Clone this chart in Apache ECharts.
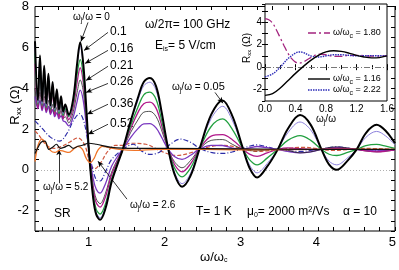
<!DOCTYPE html>
<html><head><meta charset="utf-8">
<script src="https://cdn.jsdelivr.net/npm/echarts@6/dist/echarts.min.js"></script>
<style>html,body{margin:0;padding:0;background:#fff}#c{width:399px;height:270px}</style>
</head><body><div id="c"></div>
<script>
// ---------- data ----------
const X_LOW = [0.3,0.3375,0.365,0.3925,0.42,0.4475,0.475,0.5025,0.53,0.5575,0.585,0.6125,0.64,0.6675,0.695];
const X_HIGH = [0.74,0.80,0.85,0.89,0.93,0.97,1.01,1.06,1.10,1.15,1.22,1.30,1.38,1.45,1.55,1.65,1.72,1.80,1.88,1.95,2.03,2.12,2.22,2.33,2.45,2.60,2.75,2.88,3.01,3.10,3.20,3.33,3.47,3.60,3.76,3.90,4.04,4.14,4.24,4.37,4.50,4.62,4.76,4.88,5.00];

const R_000_LOW = [6.3,3.4,5.6,3.35,5.1,3.25,4.7,3.15,4.3,3.05,3.95,2.95,3.6,2.85,3.2];
const R_000_HIGH = [2.7,3.5,5.2,6.25,5.2,3.0,0.6,-1.4,-2.2,-2.45,-1.9,-0.6,0.3,1.05,2.4,3.6,4.3,4.5,4.1,2.9,1.2,-0.2,-0.83,-0.3,1.05,2.7,3.4,2.6,1.1,0.1,-0.38,0.15,1.0,2.0,2.68,2.2,1.0,0.25,0.0,0.4,1.0,1.8,2.2,1.9,1.3];
const R_005_LOW = [6.1,3.3,5.45,3.25,5.0,3.15,4.6,3.05,4.2,2.95,3.85,2.85,3.5,2.75,3.1];
const R_005_HIGH = [2.65,3.43,5.07,6.09,5.07,2.94,0.61,-1.33,-2.1,-2.35,-1.81,-0.55,0.32,1.05,2.34,3.47,4.12,4.29,3.9,2.77,1.19,-0.11,-0.68,-0.18,1.05,2.51,3.11,2.39,1.09,0.24,-0.15,0.3,1.0,1.81,2.34,1.95,1.0,0.42,0.24,0.55,1.0,1.59,1.88,1.65,1.22];
const R_010_LOW = [5.7,3.2,5.1,3.15,4.7,3.05,4.35,2.95,4.0,2.85,3.7,2.75,3.4,2.65,3.0];
const R_010_HIGH = [2.6,3.3,4.7,5.4,4.61,2.72,0.64,-1.2,-1.94,-2.17,-1.67,-0.47,0.37,1.04,2.18,3.13,3.67,3.8,3.45,2.48,1.15,0.1,-0.35,0.08,1.03,2.12,2.49,1.96,1.06,0.5,0.24,0.57,1.0,1.44,1.67,1.44,1.0,0.76,0.7,0.84,1.0,1.18,1.24,1.16,1.05];
const R_016_LOW = [5.2,3.0,4.8,2.95,4.5,2.85,4.2,2.75,3.9,2.65,3.6,2.55,3.3,2.5,2.9];
const R_016_HIGH = [2.45,3.1,4.3,5.0,4.28,2.6,0.68,-0.94,-1.62,-1.83,-1.32,-0.25,0.46,1.04,2.02,2.85,3.24,3.31,3.02,2.22,1.13,0.27,-0.1,0.29,1.03,1.65,1.72,1.46,1.03,0.77,0.66,0.83,1.0,1.07,1.03,1.0,1.0,1.03,1.05,1.04,1.0,0.93,0.88,0.91,0.97];
const R_021_LOW = [4.0,3.1,3.8,3.0,3.6,2.9,3.4,2.8,3.2,2.7,3.05,2.6,2.9,2.5,2.6];
const R_021_HIGH = [2.3,2.85,3.8,4.4,3.86,2.4,0.72,-0.78,-1.43,-1.66,-1.15,-0.12,0.53,1.03,1.84,2.48,2.82,2.86,2.61,1.97,1.1,0.4,0.1,0.45,1.02,1.44,1.48,1.24,1.01,0.94,0.93,0.97,1.0,0.95,0.83,0.88,1.0,1.09,1.12,1.07,1.0,0.92,0.88,0.91,0.97];
const R_026_LOW = [3.6,3.0,3.4,2.9,3.25,2.8,3.1,2.7,2.95,2.6,2.8,2.5,2.65,2.4,2.35];
const R_026_HIGH = [2.15,2.6,3.35,3.9,3.39,2.16,0.77,-0.44,-0.95,-1.14,-0.68,0.17,0.67,1.02,1.59,2.04,2.25,2.26,2.05,1.61,1.06,0.65,0.51,0.71,1.01,1.2,1.19,1.06,1.0,1.07,1.14,1.08,1.0,0.9,0.83,0.88,1.0,1.07,1.1,1.06,1.0,0.95,0.93,0.95,0.98];

const X_036 = [0.3,0.4,0.5,0.62,0.72,0.8,0.88,0.95,1.02,1.1,1.15,1.22,1.3,1.45,1.58,1.7,1.8,1.92,2.03,2.2,2.33,2.45,2.6,2.75,2.9,3.01,3.2,3.35,3.5,3.76,4.0,4.24,4.5,4.76,5.0];
const R_036 = [2.4,2.0,1.6,1.4,1.8,2.4,2.75,2.2,0.6,-0.5,-0.55,-0.1,0.5,1.0,1.25,0.9,0.75,0.85,1.15,1.5,1.35,1.05,0.85,0.8,0.9,1.05,1.22,1.1,0.98,0.9,1.0,1.12,1.0,0.93,1.0];
const X_052 = [0.3,0.35,0.45,0.55,0.65,0.75,0.86,0.95,1.02,1.08,1.15,1.25,1.35,1.45,1.55,1.75,1.95,2.15,2.35,2.55,2.75,3.0,3.2,3.5,3.8,4.2,4.6,5.0];
const R_052 = [1.9,1.7,1.2,1.05,1.15,1.35,1.56,1.2,0.3,0.05,0.3,0.9,1.2,1.2,1.3,1.25,0.9,0.7,0.85,1.1,1.2,1.05,0.9,1.0,1.1,0.95,1.05,1.0];
const X_260 = [0.3,0.34,0.39,0.44,0.5,0.56,0.62,0.68,0.74,0.8,0.86,0.92,0.97,1.02,1.07,1.12,1.18,1.25,1.4,1.6,1.9,2.5,3.0,4.0,5.0];
const R_260 = [0.4,1.2,1.5,1.3,0.95,0.85,0.95,0.9,0.85,1.0,1.15,1.0,0.55,0.35,0.55,0.95,1.15,1.1,1.0,0.95,1.0,1.0,0.98,1.0,1.0];
const X_520 = [0.3,0.34,0.38,0.43,0.48,0.53,0.58,0.63,0.68,0.74,0.8,0.86,0.92,1.0,1.1,1.3,1.6,2.0,3.0,4.0,5.0];
const R_520 = [0.8,1.1,1.35,1.4,1.0,1.1,1.25,1.05,1.1,1.2,1.05,1.15,1.2,1.3,1.25,1.1,1.05,1.05,1.02,1.0,1.0];

// inset
const IN_X_180 = [0,0.05,0.1,0.15,0.2,0.25,0.3,0.35,0.4,0.45,0.5,0.6,0.7,0.8,0.9,1.0,1.1,1.2,1.4,1.6];
const IN_R_180 = [4.3,4.2,3.9,3.3,2.6,1.9,1.25,0.75,0.45,0.35,0.45,0.85,1.15,1.1,0.95,0.95,1.05,1.05,0.98,1.0];
const IN_X_116 = [0,0.1,0.2,0.3,0.4,0.5,0.6,0.7,0.8,0.9,1.0,1.1,1.2,1.3,1.4,1.5,1.6];
const IN_R_116 = [-2.5,-2.35,-1.85,-1.2,-0.55,0.05,0.6,1.05,1.35,1.45,1.4,1.25,1.05,0.9,0.82,0.85,1.0];
const IN_X_222 = [0,0.1,0.2,0.3,0.4,0.45,0.5,0.6,0.7,0.8,0.9,1.0,1.2,1.4,1.6];
const IN_R_222 = [-0.85,-0.6,0.0,0.75,1.25,1.35,1.3,1.0,0.9,1.0,1.1,1.1,1.0,1.02,1.0];

const Y_TICKS_MAIN = [-2,0,2,4,6,8];
const Y_TICKS_INSET = [-2,0,2,4];

// ---------- chart ----------
const F = 'Liberation Sans';
const PX = (399 - 4 - 35) / 4.7; // px per x unit in main plot
const zip = (xs, ys) => xs.map((x, i) => [x, ys[i]]);
const full = (lo, hi) => zip(X_LOW.concat(X_HIGH), lo.concat(hi));

function ln(data, color, width, type, z, xi, yi) {
  return {type:'line', data, xAxisIndex: xi||0, yAxisIndex: yi||0, symbol:'none', smooth:0.35,
    lineStyle:{color, width, type: type||'solid'}, z: z||2, silent:true};
}
const SUB = {fontSize:7, fontFamily:F, padding:[6,0,0,0]};
function txt(x, y, text, size, extra) {
  return Object.assign({type:'text', x, y, silent:true, style:{text, fill:'#000', fontSize:size, fontFamily:F,
    align:'left', verticalAlign:'middle', rich:{s:Object.assign({}, SUB), n:{fontSize:size+1, fontFamily:F}}}}, extra||{});
}
const A = (x1,y1,x2,y2) => [{coord:[x1,y1]},{coord:[x2,y2]}];

const sBlack = ln(full(R_000_LOW, R_000_HIGH), '#000', 2, 'solid', 9);
sBlack.markLine = {silent:true, symbol:['none','arrow'], symbolSize:[4,6], animation:false,
  lineStyle:{color:'#000', width:0.8, type:'solid'}, label:{show:false},
  data:[A(0.992,7.22,0.9,6.29),A(1.253,6.73,0.94,5.85),A(1.253,5.85,0.953,5.21),A(1.253,5.07,0.966,4.38),
        A(1.253,4.23,0.966,3.79),A(1.253,3.21,0.979,2.72),A(1.253,2.23,0.992,1.74),A(2.65,3.79,2.754,3.26),
        A(0.613,-0.66,0.613,1.0),A(1.501,-1.44,1.122,0.42)]};
const sZero = ln([], '#000', 1);
sZero.markLine = {silent:true, symbol:'none', animation:false, label:{show:false},
  lineStyle:{color:'#b0b0b0', width:1, type:[1,2]}, data:[{yAxis:0}]};
const sInZero = ln([], '#000', 1, 'solid', 2, 1, 3);
sInZero.markLine = {silent:true, symbol:'none', animation:false, label:{show:false},
  lineStyle:{color:'#777', width:1, type:[6,2,1,2]}, data:[{yAxis:0}]};

const TICK = {show:true, inside:true, length:4, lineStyle:{color:'#000', width:1}};
const tickAx = (gi, pos, min, max, interval, len) => ({type:'value', gridIndex:gi, position:pos, min, max, interval,
  axisLine:{show:false}, splitLine:{show:false}, axisLabel:{show:false},
  axisTick:{show:true, inside:true, length:len, lineStyle:{color:'#000', width:1}}});
const hiddenAx = (gi) => ({type:'value', gridIndex:gi, show:false, min:0, max:1});

const option = {
  animation:false,
  grid:[
    {left:35, right:4, top:6, bottom:39, show:true, borderColor:'#000', borderWidth:1, backgroundColor:'transparent'},
    {left:265, top:4, width:122, height:97, show:true, borderColor:'#000', borderWidth:1, backgroundColor:'#fff'},
    {left:35 + 0.1*PX, right:4, top:6, bottom:39, show:false},
    {left:35 + 0.7*PX, right:4, top:6, bottom:39, show:false}
  ],
  xAxis:[
    {type:'value', gridIndex:0, min:0.3, max:5, show:false},
    {type:'value', gridIndex:1, position:'bottom', min:0, max:1.6, interval:0.4, axisLine:{show:false}, splitLine:{show:false},
      axisTick:{show:true, inside:true, length:3, lineStyle:{color:'#000'}}, minorTick:{show:true, splitNumber:2, length:2, lineStyle:{color:'#000'}},
      axisLabel:{show:true, color:'#000', fontSize:10, fontFamily:F, margin:3, formatter:v=>v.toFixed(1)}},
    {type:'value', gridIndex:1, position:'top', min:0, max:1.6, interval:0.4, axisLine:{show:false}, splitLine:{show:false},
      axisTick:{show:true, inside:true, length:3, lineStyle:{color:'#000'}}, minorTick:{show:true, splitNumber:2, length:2, lineStyle:{color:'#000'}},
      axisLabel:{show:false}},
    tickAx(2,'bottom',0.4,5,0.2,4),
    tickAx(2,'top',0.4,5,0.2,4),
    {type:'value', gridIndex:3, position:'bottom', min:1, max:5, interval:1, axisLine:{show:false}, splitLine:{show:false},
      axisTick:{show:false}, axisLabel:{show:true, color:'#000', fontSize:13, fontFamily:F, margin:5}}
  ],
  yAxis:[
    tickAx(0,'left',-3,8,0.5,4),
    {type:'value', gridIndex:0, position:'left', min:-3, max:8, interval:1, axisLine:{show:false}, splitLine:{show:false},
      axisTick:{show:false}, axisLabel:{show:true, showMinLabel:false, color:'#000', fontSize:13, fontFamily:F, margin:6,
      formatter:v => Y_TICKS_MAIN.includes(v) ? String(v) : ''}},
    tickAx(0,'right',-3,8,0.5,4),
    {type:'value', gridIndex:1, position:'left', min:-3, max:5.6, interval:1, axisLine:{show:false}, splitLine:{show:false},
      axisTick:{show:true, inside:true, length:3, lineStyle:{color:'#000'}},
      axisLabel:{show:true, showMinLabel:false, showMaxLabel:false, color:'#000', fontSize:10, fontFamily:F, margin:3,
      formatter:v => Y_TICKS_INSET.includes(v) ? String(v) : ''}},
    {type:'value', gridIndex:1, position:'right', min:-3, max:5.6, interval:1, axisLine:{show:false}, splitLine:{show:false},
      axisTick:{show:true, inside:true, length:3, lineStyle:{color:'#000'}}, axisLabel:{show:false}},
    hiddenAx(2), hiddenAx(3)
  ],
  series:[
    sZero,
    ln(zip(X_052, R_052), '#d0573e', 1.2, [4,2], 3),
    ln(zip(X_036, R_036), '#2c2ca8', 1.2, [5,2,1,2], 3),
    ln(full(R_026_LOW, R_026_HIGH), '#7a38c0', 1.3, 'solid', 4),
    ln(full(R_021_LOW, R_021_HIGH), '#222', 0.8, 'solid', 5),
    ln(full(R_016_LOW, R_016_HIGH), '#b1178a', 1.3, 'solid', 6),
    ln(full(R_010_LOW, R_010_HIGH), '#22a040', 1.3, 'solid', 7),
    ln(full(R_005_LOW, R_005_HIGH), '#8c80dc', 1.0, 'solid', 8),
    sBlack,
    ln(zip(X_260, R_260), '#f07428', 1.3, 'solid', 10),
    ln(zip(X_520, R_520), '#111', 1.2, 'solid', 11),
    sInZero,
    ln(zip(IN_X_180, IN_R_180), '#a3247f', 1.3, [8,3,2,3], 5, 1, 3),
    ln(zip(IN_X_222, IN_R_222), '#2b2bb8', 1.4, [1.5,1], 5, 1, 3),
    ln(zip(IN_X_116, IN_R_116), '#000', 1.4, 'solid', 6, 1, 3)
  ],
  graphic:[
    txt(145, 25, 'ω/2π= 100 GHz', 12),
    txt(155, 46, 'E{s|is}= 5 V/cm', 12),
    txt(73, 17, 'ω{s|j}/ω = 0', 10),
    txt(110, 32, '0.1', 12), txt(110, 49, '0.16', 12), txt(110, 66, '0.21', 12),
    txt(110, 82, '0.26', 12), txt(110, 104, '0.36', 12), txt(110, 124, '0.52', 12),
    txt(172, 87, 'ω{s|j}/ω = {n|0.05}', 10),
    txt(43, 187, 'ω{s|j}/ω = 5.2', 10),
    txt(130, 205, 'ω{s|j}/ω = 2.6', 10),
    txt(54, 214, 'SR', 12),
    txt(196, 212, 'T= 1 K', 12),
    txt(247, 212, 'μ{s|0}= 2000 m²/Vs', 12),
    txt(343, 212, 'α = 10', 12),
    txt(200, 257, 'ω/ω{s|c}', 13),
    txt(15, 105, '', 13, {rotation:Math.PI/2, style:{text:'R{s|xx} (Ω)', fill:'#000', fontSize:13, fontFamily:F, align:'center', verticalAlign:'middle', rich:{s:{fontSize:8, fontFamily:F, padding:[7,0,0,0]}}}}),
    txt(247, 48, '', 10, {rotation:Math.PI/2, style:{text:'R{s|xx} (Ω)', fill:'#000', fontSize:10, fontFamily:F, align:'center', verticalAlign:'middle', rich:{s:{fontSize:6, fontFamily:F, padding:[5,0,0,0]}}}}),
    txt(316, 119, 'ω{s|j}/ω', 10),
    {type:'line', silent:true, shape:{x1:308, y1:33, x2:330, y2:33}, style:{stroke:'#a3247f', lineWidth:1.3, lineDash:[8,3,2,3]}},
    txt(333, 33, 'ω/ω{s|c} = 1.80', 9),
    {type:'line', silent:true, shape:{x1:308, y1:79, x2:330, y2:79}, style:{stroke:'#000', lineWidth:1.4}},
    txt(333, 79, 'ω/ω{s|c} = 1.16', 9),
    {type:'line', silent:true, shape:{x1:308, y1:90, x2:330, y2:90}, style:{stroke:'#2b2bb8', lineWidth:1.4, lineDash:[1.5,1]}},
    txt(333, 90, 'ω/ω{s|c} = 2.22', 9)
  ]
};
const chart = echarts.init(document.getElementById('c'), null, {renderer:'canvas'});
chart.setOption(option);
</script></body></html>
